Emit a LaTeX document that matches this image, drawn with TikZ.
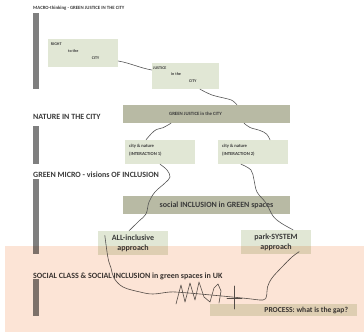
\documentclass[tikz,border=0pt]{standalone}
\usepackage{fontspec}
\setmainfont{Carlito}
\definecolor{boxgreen}{HTML}{E1E7D5}
\definecolor{boxolive}{HTML}{B8BAA4}
\definecolor{bargray}{HTML}{7F7F7F}
\definecolor{peach}{HTML}{FCE4D6}
\definecolor{ink}{HTML}{3A3A3A}
\definecolor{wirecol}{HTML}{555555}
\tikzset{
  lightbox/.style={fill=boxgreen, inner sep=0pt, minimum width=70pt, minimum height=24pt},
  darkbox/.style={fill=boxolive, inner sep=0pt, minimum width=167pt, minimum height=18pt},
  sidebar/.style={fill=bargray},
  heading/.style={anchor=base west, inner sep=0pt, text=ink, font=\bfseries\fontsize{8}{9}\selectfont},
  tinytext/.style={inner sep=0pt, text=ink, align=left, font=\bfseries\fontsize{4.1}{7}\selectfont},
  smalltext/.style={inner sep=0pt, text=ink, align=left, font=\bfseries\fontsize{4.6}{8}\selectfont},
  bigtext/.style={text=ink, align=center, font=\bfseries\fontsize{8}{10}\selectfont},
  wire/.style={draw=wirecol, line width=0.6pt, line cap=round, line join=round},
}
\begin{document}
\begin{tikzpicture}[x=1pt, y=-1pt]
\useasboundingbox (0,0) rectangle (364,336);

% ---- section headings and their side bars
\node[heading, font=\bfseries\fontsize{4.8}{6}\selectfont] (h1) at (33,9.5)
  {MACRO-thinking - GREEN JUSTICE IN THE CITY};
\node[heading] (h2) at (33,119.5) {NATURE IN THE CITY};
\node[heading] (h3) at (33,177.5) {GREEN MICRO - visions OF INCLUSION};
\node[heading] (h4) at (33,278.5) {SOCIAL CLASS \& SOCIAL INCLUSION in green spaces in UK};

\fill[sidebar] (33,13) rectangle (39,89);
\fill[sidebar] (33,126) rectangle (39,164);
\fill[sidebar] (33,179) rectangle (39,254);
\fill[sidebar] (33,279) rectangle (39,316);

% ---- macro level (base anchor of a multi-line node = its last line)
\node[lightbox, minimum height=28pt] (rtc) at (83,53) {};
\node[tinytext, anchor=base west] (rtct) at (50.7,59.5)
  {RIGHT\\\hspace*{17.3pt}to the\\\hspace*{41pt}CITY};

\node[lightbox, minimum width=67pt, minimum height=26pt] (jus) at (185.5,76) {};
\node[tinytext, anchor=base west, font=\bfseries\fontsize{4.1}{6.5}\selectfont] (just) at (153,82.5)
  {JUSTICE\\\hspace*{18pt}in the\\\hspace*{36pt}CITY};

\node[darkbox] (gjc) at (206.5,114) {};
\node[text=ink, inner sep=0pt, font=\bfseries\fontsize{4.8}{6}\selectfont] (gjct)
  at ([xshift=-11pt]gjc.center) {GREEN JUSTICE in the CITY};

% ---- nature in the city
\node[lightbox] (cn1) at (160,152) {};
\node[smalltext, anchor=base west] (cn1t) at (129,155.5)
  {city \& nature\\(INTERACTION 1)};
\node[lightbox] (cn2) at (253,152) {};
\node[smalltext, anchor=base west] (cn2t) at (222,155.5)
  {city \& nature\\(INTERACTION 2)};

% ---- green micro
\node[darkbox] (sig) at (206.5,205) {};
\node[text=ink, inner sep=0pt, font=\bfseries\fontsize{8}{9}\selectfont] (sigt)
  at ([xshift=10pt]sig.center) {social INCLUSION in GREEN spaces};

\node[lightbox, bigtext] (all) at (133,243) {ALL-inclusive\\approach};
\node[lightbox, bigtext] (prk) at (276,242) {park-SYSTEM\\approach};

% ---- social class
\node[fill=boxgreen, inner sep=0pt, minimum width=147pt, minimum height=12pt] (prc) at (283.5,310) {};
\node[text=ink, inner sep=0pt, anchor=east, font=\bfseries\fontsize{7.6}{9}\selectfont] (prct)
  at ([xshift=-9pt]prc.east) {PROCESS: what is the gap?};

% ---- hand-drawn connectors
\draw[wire] ([yshift=-8pt]rtc.east) .. controls (130,63) and (140,68) .. ([yshift=6pt]jus.west);
\draw[wire] plot[smooth, tension=0.6] coordinates
  {([xshift=14.5pt]jus.south) (212,95) (228,99) (233,101) ([xshift=30.5pt]gjc.north)};
\draw[wire] plot[smooth, tension=0.6] coordinates
  {([xshift=-35.5pt]gjc.south) (163,127.7) (156.5,129.5) (151.5,133.5) ([xshift=-14pt]cn1.north)};
\draw[wire] plot[smooth, tension=0.6] coordinates
  {([xshift=37.5pt]gjc.south) (250,127.5) (260,130.5) (266.5,134) ([xshift=17pt]cn2.north)};
\draw[wire] plot[smooth, tension=0.6] coordinates
  {(cn1.south) (167,170) (170,177) (165,183) (155,192) (149,202) (146,214) (139,221) ([xshift=-4pt]all.north)};
\draw[wire] plot[smooth, tension=0.6] coordinates
  {([xshift=-12pt]cn2.south) (251,170) (254,180) (257,192) (266,203) (273,216) (281,223) ([xshift=17pt]prk.north)};

% ---- the path between the two approaches, and the scribble across it
\draw[wire] plot[smooth, tension=0.6] coordinates
  {([shift={(7,4.5)}]all.north west) (108,258) (111,268) (114,278) (123,287) (140,292) (153,294)
   (170,292) (182,292.5) (200,294) (227,296.5) (247,298.5) (263,300) (266.5,296) (267.5,287)
   (272,278) (282,267) (292,257) ([shift={(-12,-2.5)}]prk.south east)};
\draw[wire] (176,304) -- (181,285) -- (185,302) -- (190,283) -- (195,300) -- (199,282)
  -- (204,297) -- (210,302) -- (214,288) -- (218,284) -- (221,291) -- (219,303);
\draw[wire] (234,286) -- (234,309);
\draw[wire] (227,298) -- (242,298);

% ---- peach band laid over the lower part
\fill[peach, blend mode=multiply] (5,246) rectangle (364,332);
\end{tikzpicture}
\end{document}
